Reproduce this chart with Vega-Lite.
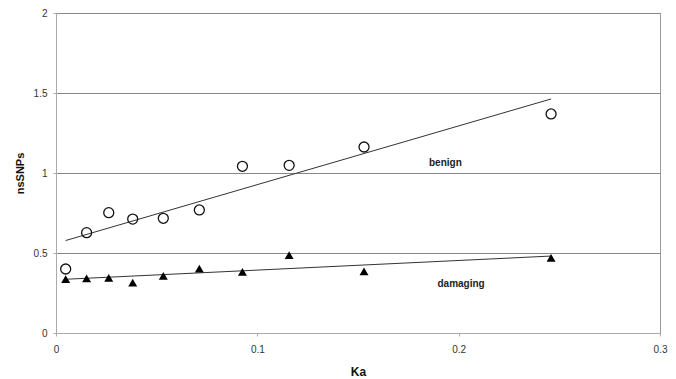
{
  "$schema": "https://vega.github.io/schema/vega-lite/v6.json",
  "width": 604,
  "height": 320,
  "autosize": {"type": "none"},
  "padding": {"left": 56, "top": 13, "right": 16, "bottom": 46},
  "background": "white",
  "config": {
    "view": {"stroke": "#999999", "strokeWidth": 1},
    "font": "Liberation Sans"
  },
  "datasets": {
    "pts": [
      {"ka": 0.0048, "ns": 0.40, "type": "benign"},
      {"ka": 0.0152, "ns": 0.627, "type": "benign"},
      {"ka": 0.0262, "ns": 0.752, "type": "benign"},
      {"ka": 0.0381, "ns": 0.712, "type": "benign"},
      {"ka": 0.0533, "ns": 0.717, "type": "benign"},
      {"ka": 0.0712, "ns": 0.769, "type": "benign"},
      {"ka": 0.0926, "ns": 1.042, "type": "benign"},
      {"ka": 0.1158, "ns": 1.048, "type": "benign"},
      {"ka": 0.153, "ns": 1.1625, "type": "benign"},
      {"ka": 0.2459, "ns": 1.369, "type": "benign"},
      {"ka": 0.0048, "ns": 0.337, "type": "damaging"},
      {"ka": 0.0152, "ns": 0.342, "type": "damaging"},
      {"ka": 0.0262, "ns": 0.345, "type": "damaging"},
      {"ka": 0.0381, "ns": 0.315, "type": "damaging"},
      {"ka": 0.0533, "ns": 0.357, "type": "damaging"},
      {"ka": 0.0712, "ns": 0.402, "type": "damaging"},
      {"ka": 0.0926, "ns": 0.382, "type": "damaging"},
      {"ka": 0.1158, "ns": 0.486, "type": "damaging"},
      {"ka": 0.153, "ns": 0.385, "type": "damaging"},
      {"ka": 0.2459, "ns": 0.47, "type": "damaging"}
    ],
    "labels": [
      {"ka": 0.1934, "ns": 1.064, "label": "benign"},
      {"ka": 0.2012, "ns": 0.304, "label": "damaging"}
    ]
  },
  "encoding": {
    "x": {
      "field": "ka", "type": "quantitative",
      "scale": {"domain": [0, 0.3], "nice": false, "zero": false},
      "axis": {
        "title": "Ka", "values": [0, 0.1, 0.2, 0.3], "grid": false, "format": "~g",
        "domainColor": "#aaaaaa", "tickColor": "#aaaaaa", "tickSize": 3,
        "labelFont": "Liberation Sans", "labelFontSize": 10, "labelColor": "#333333", "labelPadding": 8,
        "labelFlush": false,
        "titleFont": "Liberation Sans", "titleFontSize": 12, "titleFontWeight": "bold", "titleColor": "#111111",
        "titleY": 38, "titleBaseline": "middle"
      }
    },
    "y": {
      "field": "ns", "type": "quantitative",
      "scale": {"domain": [0, 2], "nice": false},
      "axis": {
        "title": "nsSNPs", "values": [0, 0.5, 1, 1.5, 2], "grid": true, "format": "~g",
        "gridColor": "#888888", "gridWidth": 1,
        "domainColor": "#aaaaaa", "tickColor": "#aaaaaa", "tickSize": 3,
        "labelFont": "Liberation Sans", "labelFontSize": 10, "labelColor": "#333333", "labelPadding": 6,
        "labelFlush": false,
        "titleFont": "Liberation Sans", "titleFontSize": 11, "titleFontWeight": "bold", "titleColor": "#111111",
        "titleAngle": -90, "titleX": -36, "titleY": 160, "titleBaseline": "middle", "titleAlign": "center"
      }
    }
  },
  "layer": [
    {
      "data": {"name": "pts"},
      "transform": [{"regression": "ns", "on": "ka", "groupby": ["type"]}],
      "mark": {"type": "line", "color": "#333333", "strokeWidth": 1},
      "encoding": {"detail": {"field": "type"}}
    },
    {
      "data": {"name": "pts"},
      "transform": [{"filter": "datum.type === 'benign'"}],
      "mark": {"type": "point", "shape": "circle", "filled": false, "stroke": "#111111", "strokeWidth": 1.3, "size": 100, "opacity": 1}
    },
    {
      "data": {"name": "pts"},
      "transform": [{"filter": "datum.type === 'damaging'"}],
      "mark": {"type": "point", "shape": "triangle-up", "filled": true, "fill": "#000000", "size": 80, "opacity": 1}
    },
    {
      "data": {"name": "labels"},
      "mark": {"type": "text", "font": "Liberation Sans", "fontSize": 10, "fontWeight": "bold", "color": "#222222", "align": "center", "baseline": "middle"},
      "encoding": {"text": {"field": "label"}}
    }
  ]
}
